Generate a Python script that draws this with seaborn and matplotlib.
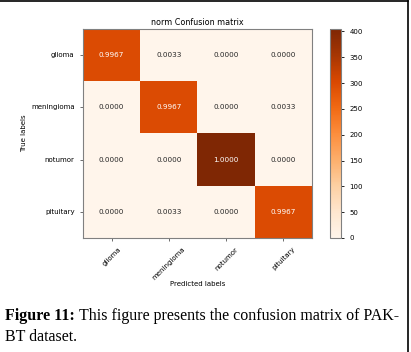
import numpy as np
import matplotlib
matplotlib.use('Agg')
import matplotlib.pyplot as plt
from matplotlib.lines import Line2D
import seaborn as sns

classes = ['glioma', 'meningioma', 'notumor', 'pituitary']
counts = np.array([
    [299, 1, 0, 0],
    [0, 299, 0, 1],
    [0, 0, 405, 0],
    [0, 1, 0, 299],
])
norm = counts / counts.sum(axis=1, keepdims=True)
annot = np.array([[f'{v:.4f}' for v in row] for row in norm])

fig = plt.figure(figsize=(4.11, 3.52), dpi=100)
ax = fig.add_axes([0.202, 0.324, 0.557, 0.594])
cax = fig.add_axes([0.803, 0.324, 0.027, 0.594])

sns.heatmap(counts, annot=annot, fmt='', cmap='Oranges', vmin=0, vmax=405,
            ax=ax, cbar_ax=cax, annot_kws={'fontsize': 5.2},
            xticklabels=classes, yticklabels=classes)

for s in ax.spines.values():
    s.set_visible(True)
    s.set_color('#808080')
    s.set_linewidth(0.8)
ax.tick_params(axis='both', labelsize=5, length=2.5, width=0.6, color='#555555')
plt.setp(ax.get_xticklabels(), rotation=45, ha='center')
plt.setp(ax.get_yticklabels(), rotation=0)
ax.set_title('norm Confusion matrix', fontsize=5.8, pad=3)
ax.set_xlabel('Predicted labels', fontsize=5)
ax.set_ylabel('True labels', fontsize=5)
# label positions in axes coords (picked to match the reference)
ax.xaxis.set_label_coords(0.5, -0.205)
ax.yaxis.set_label_coords(-0.245, 0.5)

cb = ax.collections[0].colorbar
cb.set_ticks(range(0, 401, 50))
cb.ax.tick_params(labelsize=5, length=2.5, width=0.6)
cb.outline.set_visible(True)
cb.outline.set_edgecolor('#808080')
cb.outline.set_linewidth(0.8)

# caption
cap_size = 11.5
t1 = fig.text(0.012, 0.102, 'Figure 11:', fontsize=cap_size, fontweight='bold',
              family='Liberation Serif', va='center', ha='left')
fig.canvas.draw()
bb = t1.get_window_extent(fig.canvas.get_renderer())
x2 = (bb.x1 + 4) / fig.bbox.width
fig.text(x2, 0.102, 'This figure presents the confusion matrix of PAK-',
         fontsize=cap_size, family='Liberation Serif', va='center', ha='left')
fig.text(0.012, 0.043, 'BT dataset.', fontsize=cap_size, family='Liberation Serif',
         va='center', ha='left')

# frame around the figure
fig.add_artist(Line2D([0, 0.993], [0.997, 0.997], color='black', lw=1.2))
fig.add_artist(Line2D([0.993, 0.993], [0, 0.997], color='black', lw=1.2))

fig.savefig('out.png', dpi=100)
